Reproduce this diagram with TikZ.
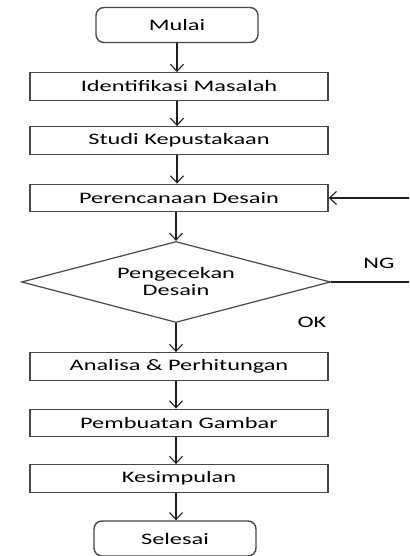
\documentclass[tikz,border=0pt]{standalone}
\usepackage{fontspec}
\setmainfont{Carlito}[FakeStretch=1.52]
\usetikzlibrary{arrows.meta,shapes.geometric}
\tikzset{
  txt/.style={font=\fontsize{16}{17}\selectfont, text=black},
  procbox/.style={draw=black!72, line width=1.4pt, rectangle, minimum width=298pt, minimum height=27.5pt, inner sep=0pt, txt},
  termbox/.style={draw=black!72, line width=1.4pt, rectangle, rounded corners=8pt, minimum width=162pt, minimum height=35pt, inner sep=0pt, txt},
  decbox/.style={draw=black!72, line width=1.2pt, diamond, aspect=3.81, minimum width=309pt, minimum height=81pt, inner sep=0pt, align=center, txt},
  flow/.style={draw=black!88, line width=1.2pt, -{Straight Barb[length=7pt,width=13pt,line width=1.1pt]}},
  plain/.style={draw=black!88, line width=1.2pt},
  lbl/.style={txt, inner sep=0pt}
}
\begin{document}
\begin{tikzpicture}[x=1pt,y=-1pt]
\useasboundingbox (0,0) rectangle (409,556);
\node[termbox] (mulai) at (177,25) {Mulai};
\node[procbox] (ident) at (179,86.5) {Identifikasi Masalah};
\node[procbox] (studi) at (179,140.5) {Studi Kepustakaan};
\node[procbox] (renc) at (179,198) {Perencanaan Desain};
\node[decbox] (cek) at (176,282) {Pengecekan\\Desain};
\node[procbox] (anal) at (179,366.5) {Analisa \& Perhitungan};
\node[procbox] (gamb) at (179,423) {Pembuatan Gambar};
\node[procbox] (kesi) at (179,478.5) {Kesimpulan};
\node[termbox] (sele) at (175,538.5) {Selesai};
\coordinate (ngend) at (409,282);
\coordinate (fbstart) at (409,198);
\node[lbl] (ng) at (379,263) {NG};
\node[lbl] (ok) at (312,322) {OK};
\draw[flow] (mulai.south) -- (mulai.south |- ident.north);
\draw[flow] (ident.south -| mulai.south) -- (mulai.south |- studi.north);
\draw[flow] (studi.south -| mulai.south) -- (mulai.south |- renc.north);
\draw[flow] (renc.south -| cek.north) -- (cek.north);
\draw[flow] (cek.south) -- (cek.south |- anal.north);
\draw[flow] (anal.south -| cek.south) -- (cek.south |- gamb.north);
\draw[flow] (gamb.south -| cek.south) -- (cek.south |- kesi.north);
\draw[flow] (kesi.south -| cek.south) -- (cek.south |- sele.north);
\draw[plain] (cek.east) -- (ngend);
\draw[flow] (fbstart) -- (renc.east);
\end{tikzpicture}
\end{document}
